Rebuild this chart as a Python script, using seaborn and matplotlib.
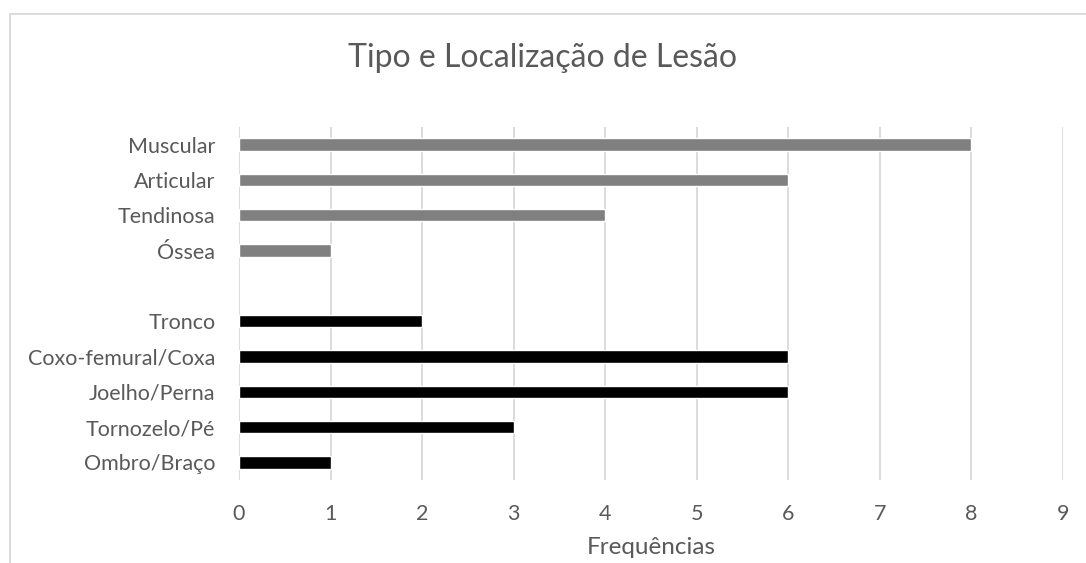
import matplotlib
matplotlib.use("Agg")
import matplotlib.pyplot as plt
import seaborn as sns
import pandas as pd
from matplotlib.patches import Rectangle

# Data
tipo_labels = ["Muscular", "Articular", "Tendinosa", "Óssea"]
tipo_values = [8, 6, 4, 1]
local_labels = ["Tronco", "Coxo-femural/Coxa", "Joelho/Perna", "Tornozelo/Pé", "Ombro/Braço"]
local_values = [2, 6, 6, 3, 1]
x_ticks = list(range(0, 10))
title = "Tipo e Localização de Lesão"
xlabel = "Frequências"

spacer = " "
order = tipo_labels + [spacer] + local_labels
df = pd.DataFrame({
    "label": tipo_labels + local_labels,
    "value": tipo_values + local_values,
    "grupo": ["Tipo"] * len(tipo_labels) + ["Localização"] * len(local_labels),
})

sns.set_style("white")
plt.rcParams["font.family"] = ["Lato", "DejaVu Sans"]

fig = plt.figure(figsize=(10.86, 5.63), dpi=100)
ax = fig.add_axes([239 / 1086, 1 - 480 / 563, (1063 - 239) / 1086, (480 - 127) / 563])

sns.barplot(data=df, y="label", x="value", hue="grupo", order=order,
            palette={"Tipo": "#808080", "Localização": "#000000"},
            dodge=False, width=0.35, ax=ax, legend=False, saturation=1)

ax.set_xlim(0, 9)
ax.set_xticks(x_ticks)
ax.set_xticklabels([str(t) for t in x_ticks])
ax.grid(axis="x", color="#d9d9d9", linewidth=1.3)
ax.set_axisbelow(True)
for s in ax.spines.values():
    s.set_visible(False)
ax.tick_params(axis="both", length=0, colors="#595959", labelsize=15.5)
ax.tick_params(axis="x", pad=17)
ax.tick_params(axis="y", pad=17)
ax.set_ylabel("")
ax.set_xlabel(xlabel, color="#595959", fontsize=17.5, labelpad=10)

fig.text(0.5, 1 - 58 / 563, title, ha="center", va="center", fontsize=23, color="#595959")

fig.patches.append(Rectangle((10 / 1086, -0.1), 1.2, 1.1 - 14 / 563 + 0.0,
                             transform=fig.transFigure, fill=False,
                             edgecolor="#d9d9d9", linewidth=1.3))

fig.savefig("out.png", dpi=100)
